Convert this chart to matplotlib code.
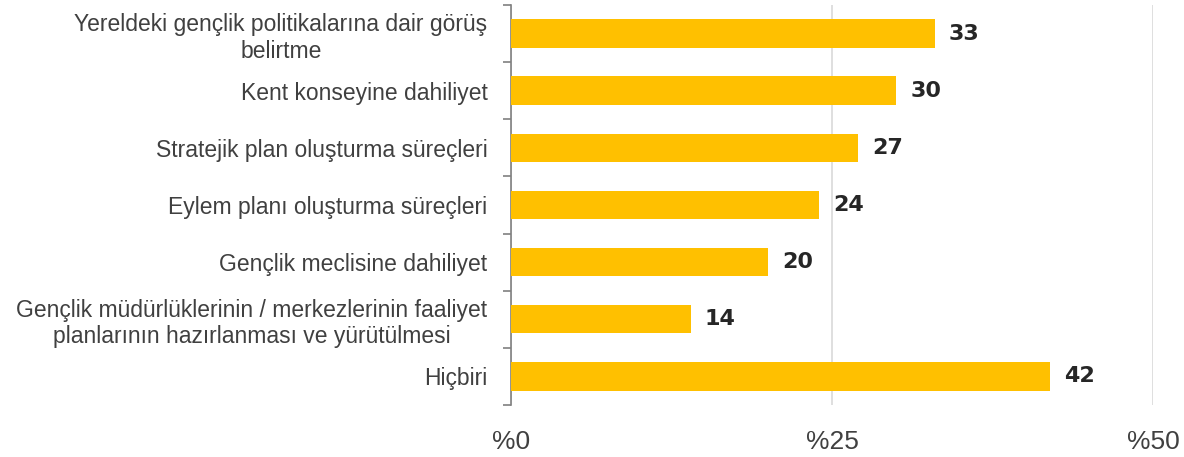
import matplotlib
matplotlib.use('Agg')
import matplotlib.pyplot as plt
import numpy as np

categories = [
    'Yereldeki gençlik politikalarına dair görüş\nbelirtme',
    'Kent konseyine dahiliyet',
    'Stratejik plan oluşturma süreçleri',
    'Eylem planı oluşturma süreçleri',
    'Gençlik meclisine dahiliyet',
    'Gençlik müdürlüklerinin / merkezlerinin faaliyet\nplanlarının hazırlanması ve yürütülmesi',
    'Hiçbiri',
]
values = [33, 30, 27, 24, 20, 14, 42]
xticks = [0, 25, 50]
xtick_labels = ['%0', '%25', '%50']

fig = plt.figure(figsize=(11.84, 4.57), dpi=100)
ax = fig.add_axes([0.4316, 0.114, 0.5422, 0.875])

ypos = np.arange(len(categories))
ax.barh(ypos, values, height=0.5, color='#FFC000', zorder=3)
for y, v in zip(ypos, values):
    ax.text(v + 1.1, y, str(v), va='center', ha='left', fontsize=16,
            fontweight='heavy', color='#262626', family='DejaVu Sans')

ax.set_ylim(len(categories) - 0.5, -0.5)
ax.set_xlim(0, 50)
ax.set_yticks(ypos)
ax.set_yticklabels(categories, fontsize=16.5, color='#404040', family='Liberation Sans',
                   ha='right', multialignment='center', linespacing=1.2)
ax.tick_params(axis='y', which='major', length=0, pad=17)
ax.set_yticks(np.arange(-0.5, len(categories)), minor=True)
ax.tick_params(axis='y', which='minor', length=6, color='#808080', width=1.2)

ax.set_xticks(xticks)
ax.set_xticklabels(xtick_labels, fontsize=19, color='#404040', family='Liberation Sans')
ax.tick_params(axis='x', length=0, pad=18)
ax.grid(axis='x', color='#d9d9d9', lw=1.2, zorder=0)

for s in ['top', 'right', 'bottom']:
    ax.spines[s].set_visible(False)
ax.spines['left'].set_color('#808080')
ax.spines['left'].set_linewidth(1.2)

fig.savefig('out.png', dpi=100)
